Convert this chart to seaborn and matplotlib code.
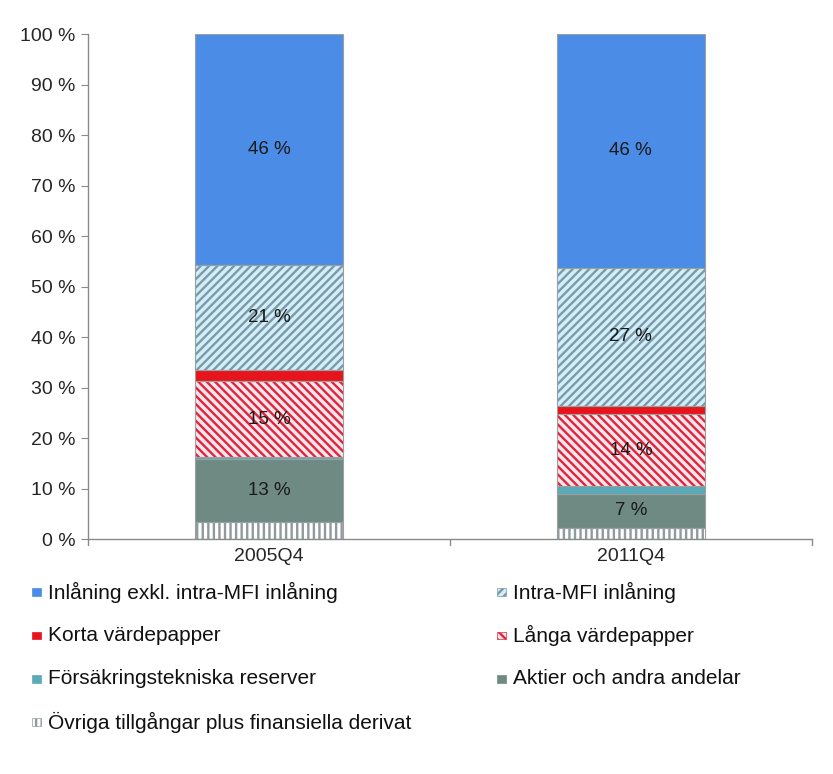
import numpy as np
import pandas as pd
import matplotlib
matplotlib.use("Agg")
import matplotlib.pyplot as plt
import seaborn as sns

categories = ["2005Q4", "2011Q4"]
# bottom to top
series = [
    "Övriga tillgångar plus finansiella derivat",
    "Aktier och andra andelar",
    "Försäkringstekniska reserver",
    "Långa värdepapper",
    "Korta värdepapper",
    "Intra-MFI inlåning",
    "Inlåning exkl. intra-MFI inlåning",
]
ovriga = [3.3, 2.2]
aktier = [12.6, 6.8]
forsakr = [0.3, 1.4]
langa = [15.1, 14.4]
korta = [2.1, 1.6]
intra = [20.8, 27.3]
inlaning = [45.8, 46.3]
values = [ovriga, aktier, forsakr, langa, korta, intra, inlaning]

yticks = list(range(0, 101, 10))
ytick_labels = [f"{t} %" for t in yticks]

styles = {
    "Övriga tillgångar plus finansiella derivat": dict(fc="#ffffff", hc="#8e9a9c", hatch="|||"),
    "Försäkringstekniska reserver": dict(fc="#5aaab8", hc=None, hatch=None),
    "Aktier och andra andelar": dict(fc="#6f8a82", hc=None, hatch=None),
    "Långa värdepapper": dict(fc="#fbe6ec", hc="#e0243c", hatch="\\\\\\\\"),
    "Korta värdepapper": dict(fc="#e8141c", hc=None, hatch=None),
    "Intra-MFI inlåning": dict(fc="#cdf0f9", hc="#8296a8", hatch="////"),
    "Inlåning exkl. intra-MFI inlåning": dict(fc="#4a8ce6", hc=None, hatch=None),
}

sns.set_style("white")
plt.rcParams["font.family"] = ["Liberation Sans", "DejaVu Sans"]
plt.rcParams["hatch.linewidth"] = 1.7

fig = plt.figure(figsize=(8.33, 7.74), dpi=100)
ax = fig.add_axes([0.1056, 0.3036, 0.869, 0.6524])

arr = np.array(values)
cum = np.cumsum(arr, axis=0)
width = 0.41

# draw from top layer down (overlay)
for i in range(len(series) - 1, -1, -1):
    name = series[i]
    st = styles[name]
    df = pd.DataFrame({"cat": categories, "val": cum[i]})
    if st["hatch"]:
        sns.barplot(data=df, x="cat", y="val", ax=ax, color=st["fc"], saturation=1,
                    width=width, hatch=st["hatch"], edgecolor=st["hc"], linewidth=0)
    else:
        sns.barplot(data=df, x="cat", y="val", ax=ax, color=st["fc"], saturation=1,
                    width=width, edgecolor=st["fc"], linewidth=0)

# thin outline for each segment
bottoms = np.vstack([np.zeros(len(categories)), cum[:-1]])
for i in range(len(series)):
    for j in range(len(categories)):
        ax.bar(j, arr[i, j], bottom=bottoms[i, j], width=width, fill=False,
               edgecolor="#9aa0a2", linewidth=0.8)

# value labels
for i in range(len(series)):
    for j in range(len(categories)):
        v = arr[i, j]
        if v >= 5:
            ax.text(j, bottoms[i, j] + v / 2, f"{round(v)} %", ha="center", va="center",
                    fontsize=13.5, color="#1a1a1a")

ax.set_xlim(-0.5, 1.5)
ax.set_ylim(0, 100)
ax.set_yticks(yticks)
ax.set_yticklabels(ytick_labels, fontsize=14)
ax.set_xticks([0, 1])
ax.set_xticklabels(categories, fontsize=14)
ax.set_xlabel("")
ax.set_ylabel("")
for s in ["top", "right"]:
    ax.spines[s].set_visible(False)
for s in ["left", "bottom"]:
    ax.spines[s].set_color("#8a8a8a")
    ax.spines[s].set_linewidth(1.0)
ax.tick_params(axis="y", which="both", left=True, length=5, color="#8a8a8a", pad=4)
ax.tick_params(axis="x", which="both", bottom=False, pad=3)
for xs in [-0.5, 0.5, 1.5]:
    ax.plot([xs, xs], [0, -1.2], color="#8a8a8a", lw=1.0, clip_on=False)

# legend
legend_order = [
    "Inlåning exkl. intra-MFI inlåning", "Intra-MFI inlåning",
    "Korta värdepapper", "Långa värdepapper",
    "Försäkringstekniska reserver", "Aktier och andra andelar",
    "Övriga tillgångar plus finansiella derivat",
]
positions = [(0.039, 0.235), (0.597, 0.235),
             (0.039, 0.179), (0.597, 0.179),
             (0.039, 0.123), (0.597, 0.123),
             (0.039, 0.067)]
for name, (lx, ly) in zip(legend_order, positions):
    st = styles[name]
    ec = st["hc"] if st["hatch"] else st["fc"]
    fig.patches.append(plt.Rectangle((lx, ly - 0.005), 0.010, 0.010, transform=fig.transFigure,
                                     facecolor=st["fc"], edgecolor=ec, hatch=st["hatch"],
                                     linewidth=0.5, figure=fig))
    fig.text(lx + 0.019, ly, name, fontsize=15, va="center", ha="left", color="#111111")

fig.savefig("out.png", dpi=100)
